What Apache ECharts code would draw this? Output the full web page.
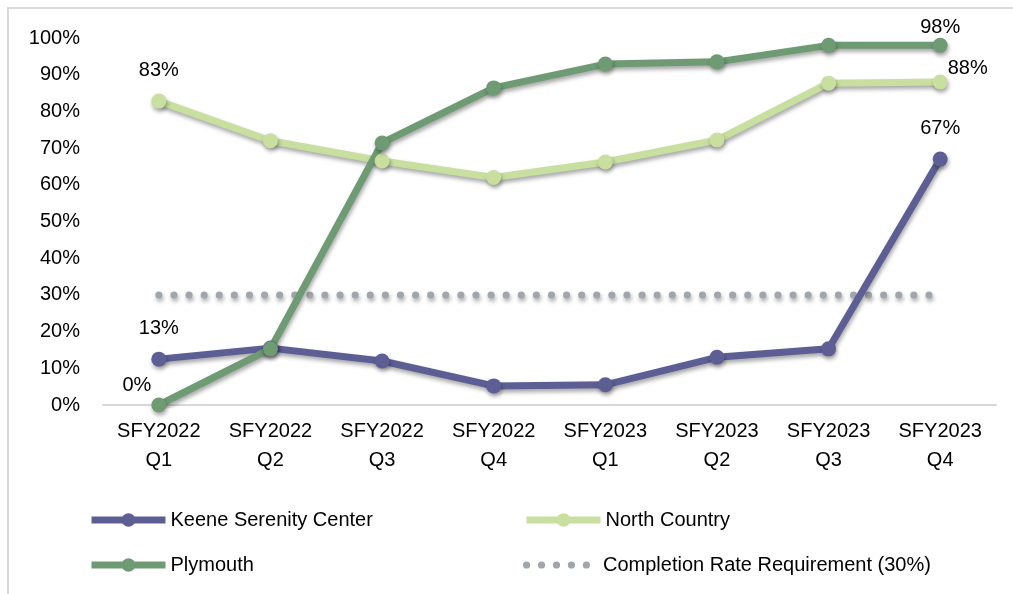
<!DOCTYPE html>
<html><head><meta charset="utf-8">
<script src="https://cdn.jsdelivr.net/npm/echarts@6/dist/echarts.min.js"></script>
<style>html,body{margin:0;padding:0;background:#fff}#c{width:1013px;height:594px}</style>
</head><body><div id="c"></div>
<script>
const categories = ['SFY2022\nQ1','SFY2022\nQ2','SFY2022\nQ3','SFY2022\nQ4','SFY2023\nQ1','SFY2023\nQ2','SFY2023\nQ3','SFY2023\nQ4'];
const keene = [12.5, 15.5, 12, 5.2, 5.5, 13, 15.3, 67];
const northCountry = [82.8, 72, 66.5, 62, 66.2, 72.2, 87.7, 88];
const plymouth = [0, 15.3, 71.4, 86.4, 92.9, 93.5, 98, 98];
const requirement = [30, 30, 30, 30, 30, 30, 30, 30];
const yTicks = [0,10,20,30,40,50,60,70,80,90,100];

const FONT = 'Liberation Sans, Arial, sans-serif';
const shadow = {shadowColor:'rgba(0,0,0,0.35)', shadowBlur:4, shadowOffsetX:1, shadowOffsetY:3};
const lbl = (pos, dist, off) => ({show:true, position:pos, distance:dist, offset:off||[0,0], formatter: p => Math.round(p.value)+'%', color:'#000', fontSize:20, fontFamily:FONT});

function withLabels(arr, map){
  return arr.map((v,i)=> map[i] ? {value:v, label:map[i]} : v);
}

const chart = echarts.init(document.getElementById('c'));
function mkSeries(name, data, color, labels){
  return {name, type:'line', data:withLabels(data, labels), symbol:'circle', symbolSize:15,
    lineStyle:Object.assign({color, width:7}, shadow),
    itemStyle:Object.assign({color}, shadow),
    label:{show:false}, emphasis:{disabled:true}, z:3};
}
const dotsPath = 'path://' + [0,1,2,3,4].map(i => {
  const cx = 4 + i*14.5;
  return `M${cx-3.5},4 a3.5,3.5 0 1,0 7,0 a3.5,3.5 0 1,0 -7,0 Z`;
}).join(' ');
const legendBase = {padding:0, itemWidth:74, itemHeight:17, textStyle:{fontSize:20, fontFamily:FONT, color:'#000'}, selectedMode:false,
  lineStyle:{width:7, shadowBlur:0, shadowOffsetX:0, shadowOffsetY:0}, itemStyle:{shadowBlur:0, shadowOffsetX:0, shadowOffsetY:0}};
chart.setOption({
  animation:false,
  textStyle:{fontFamily:FONT},
  graphic:[{type:'rect', shape:{x:8, y:8, width:1020, height:600}, style:{fill:'none', stroke:'#D9D9D9', lineWidth:2}, silent:true}],
  grid:{left:103, right:17, top:38, bottom:189, containLabel:false},
  legend:[
    Object.assign({left:88, top:510, data:['Keene Serenity Center']}, legendBase),
    Object.assign({left:523, top:510, data:['North Country']}, legendBase),
    Object.assign({left:88, top:555, data:['Plymouth']}, legendBase),
    Object.assign({}, legendBase, {left:523, top:555, itemWidth:67, itemHeight:8, icon:dotsPath,
      lineStyle:{width:0}, textStyle:{fontSize:20, fontFamily:FONT, color:'#000', padding:[0,0,0,8]},
      data:['Completion Rate Requirement (30%)']})
  ],
  xAxis:{type:'category', data:categories, boundaryGap:true,
    axisLine:{lineStyle:{color:'#D9D9D9', width:2}}, axisTick:{show:false},
    axisLabel:{fontSize:20, color:'#000', lineHeight:29, margin:12, fontFamily:FONT}},
  yAxis:{type:'value', min:0, max:100, interval:10,
    axisLine:{show:false}, axisTick:{show:false}, splitLine:{show:false},
    axisLabel:{fontSize:20, color:'#000', margin:23, fontFamily:FONT, formatter: v => yTicks.includes(v) ? v+'%' : ''}},
  series:[
    mkSeries('Keene Serenity Center', keene, '#5D5E94', {0:lbl('top',13), 7:lbl('top',13)}),
    mkSeries('North Country', northCountry, '#C8DFA0', {0:lbl('top',13), 7:lbl('right',0,[0,-14])}),
    mkSeries('Plymouth', plymouth, '#6E9B73', {0:lbl('left',0,[0,-20]), 7:lbl('top',0)}),
    {name:'Completion Rate Requirement (30%)', type:'line', data:requirement, symbol:'none',
      lineStyle:Object.assign({color:'#A1A6AC', width:7, type:[0.1,15], cap:'round'}, shadow),
      itemStyle:{color:'#A1A6AC'}, emphasis:{disabled:true}, z:2}
  ]
});
</script></body></html>
